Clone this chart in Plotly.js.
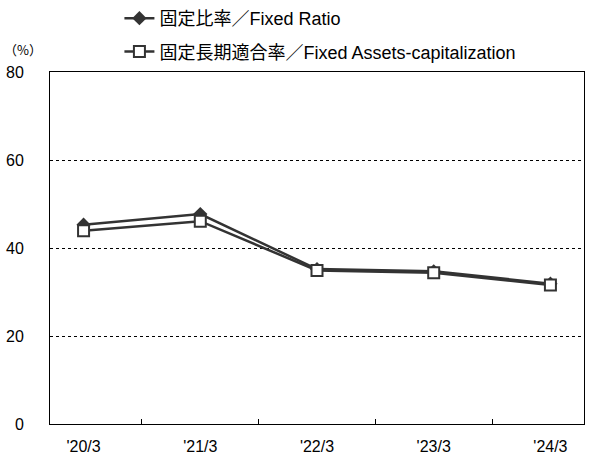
<!DOCTYPE html>
<html>
<head>
<meta charset="utf-8">
<script src="https://cdn.plot.ly/plotly-3.0.1.min.js"></script>
<style>
  html, body { margin: 0; padding: 0; background: #fff; }
  #plot { width: 590px; height: 462px; }
</style>
</head>
<body>
<div id="plot"></div>
<script>
const categories = ["'20/3", "'21/3", "'22/3", "'23/3", "'24/3"];
const fixedRatio = [45.3, 47.7, 35.2, 34.7, 31.9];
const fixedAssetsCap = [43.9, 46.1, 34.9, 34.4, 31.6];
const yTicks = [0, 20, 40, 60, 80];

const fontFamily = '"Liberation Sans", "Noto Sans CJK JP", sans-serif';
const ink = "#333333";

const traces = [
  {
    x: categories,
    y: fixedRatio,
    name: "固定比率／Fixed Ratio",
    mode: "lines+markers",
    legendgroup: "a",
    line: { color: ink, width: 2.5 },
    marker: { symbol: "diamond", size: 11, color: ink },
  },
  {
    x: categories,
    y: fixedAssetsCap,
    name: "固定長期適合率／Fixed Assets-capitalization",
    mode: "lines+markers",
    legendgroup: "b",
    line: { color: ink, width: 2.5 },
    marker: {
      symbol: "square",
      size: 11,
      color: "#ffffff",
      line: { color: ink, width: 2 },
    },
  },
];

const layout = {
  width: 590,
  height: 462,
  margin: { t: 72, r: 6, b: 38, l: 50 },
  paper_bgcolor: "#ffffff",
  plot_bgcolor: "#ffffff",
  font: { family: fontFamily, color: "#000", size: 14 },
  showlegend: true,
  legend: {
    x: 0.13,
    y: 1.027,
    yref: "container",
    xanchor: "left",
    yanchor: "top",
    traceorder: "grouped",
    tracegroupgap: 7,
    font: { size: 18, family: fontFamily, color: "#000" },
    bgcolor: "rgba(0,0,0,0)",
  },
  xaxis: {
    type: "category",
    showline: true,
    linecolor: "#000",
    linewidth: 1,
    mirror: true,
    ticks: "inside",
    tickson: "boundaries",
    ticklen: 5,
    tickcolor: "#000",
    showgrid: false,
    tickfont: { size: 16, family: "Liberation Sans, Arial, sans-serif" },
    ticklabelstandoff: 8,
  },
  yaxis: {
    range: [0, 80],
    tickvals: yTicks,
    showline: true,
    linecolor: "#000",
    linewidth: 1,
    mirror: true,
    ticks: "",
    showgrid: true,
    gridcolor: "#000",
    griddash: "dot",
    gridwidth: 1,
    zeroline: false,
    tickfont: { size: 16, family: "Liberation Sans, Arial, sans-serif" },
    ticklabelstandoff: 22,
  },
  annotations: [
    {
      text: "（%）",
      xref: "paper",
      yref: "paper",
      x: -0.05,
      y: 1.065,
      xanchor: "center",
      yanchor: "middle",
      showarrow: false,
      font: { size: 13, family: '"Noto Sans CJK JP", sans-serif' },
    },
  ],
};

Plotly.newPlot("plot", traces, layout, { displayModeBar: false, staticPlot: true });
</script>
</body>
</html>
